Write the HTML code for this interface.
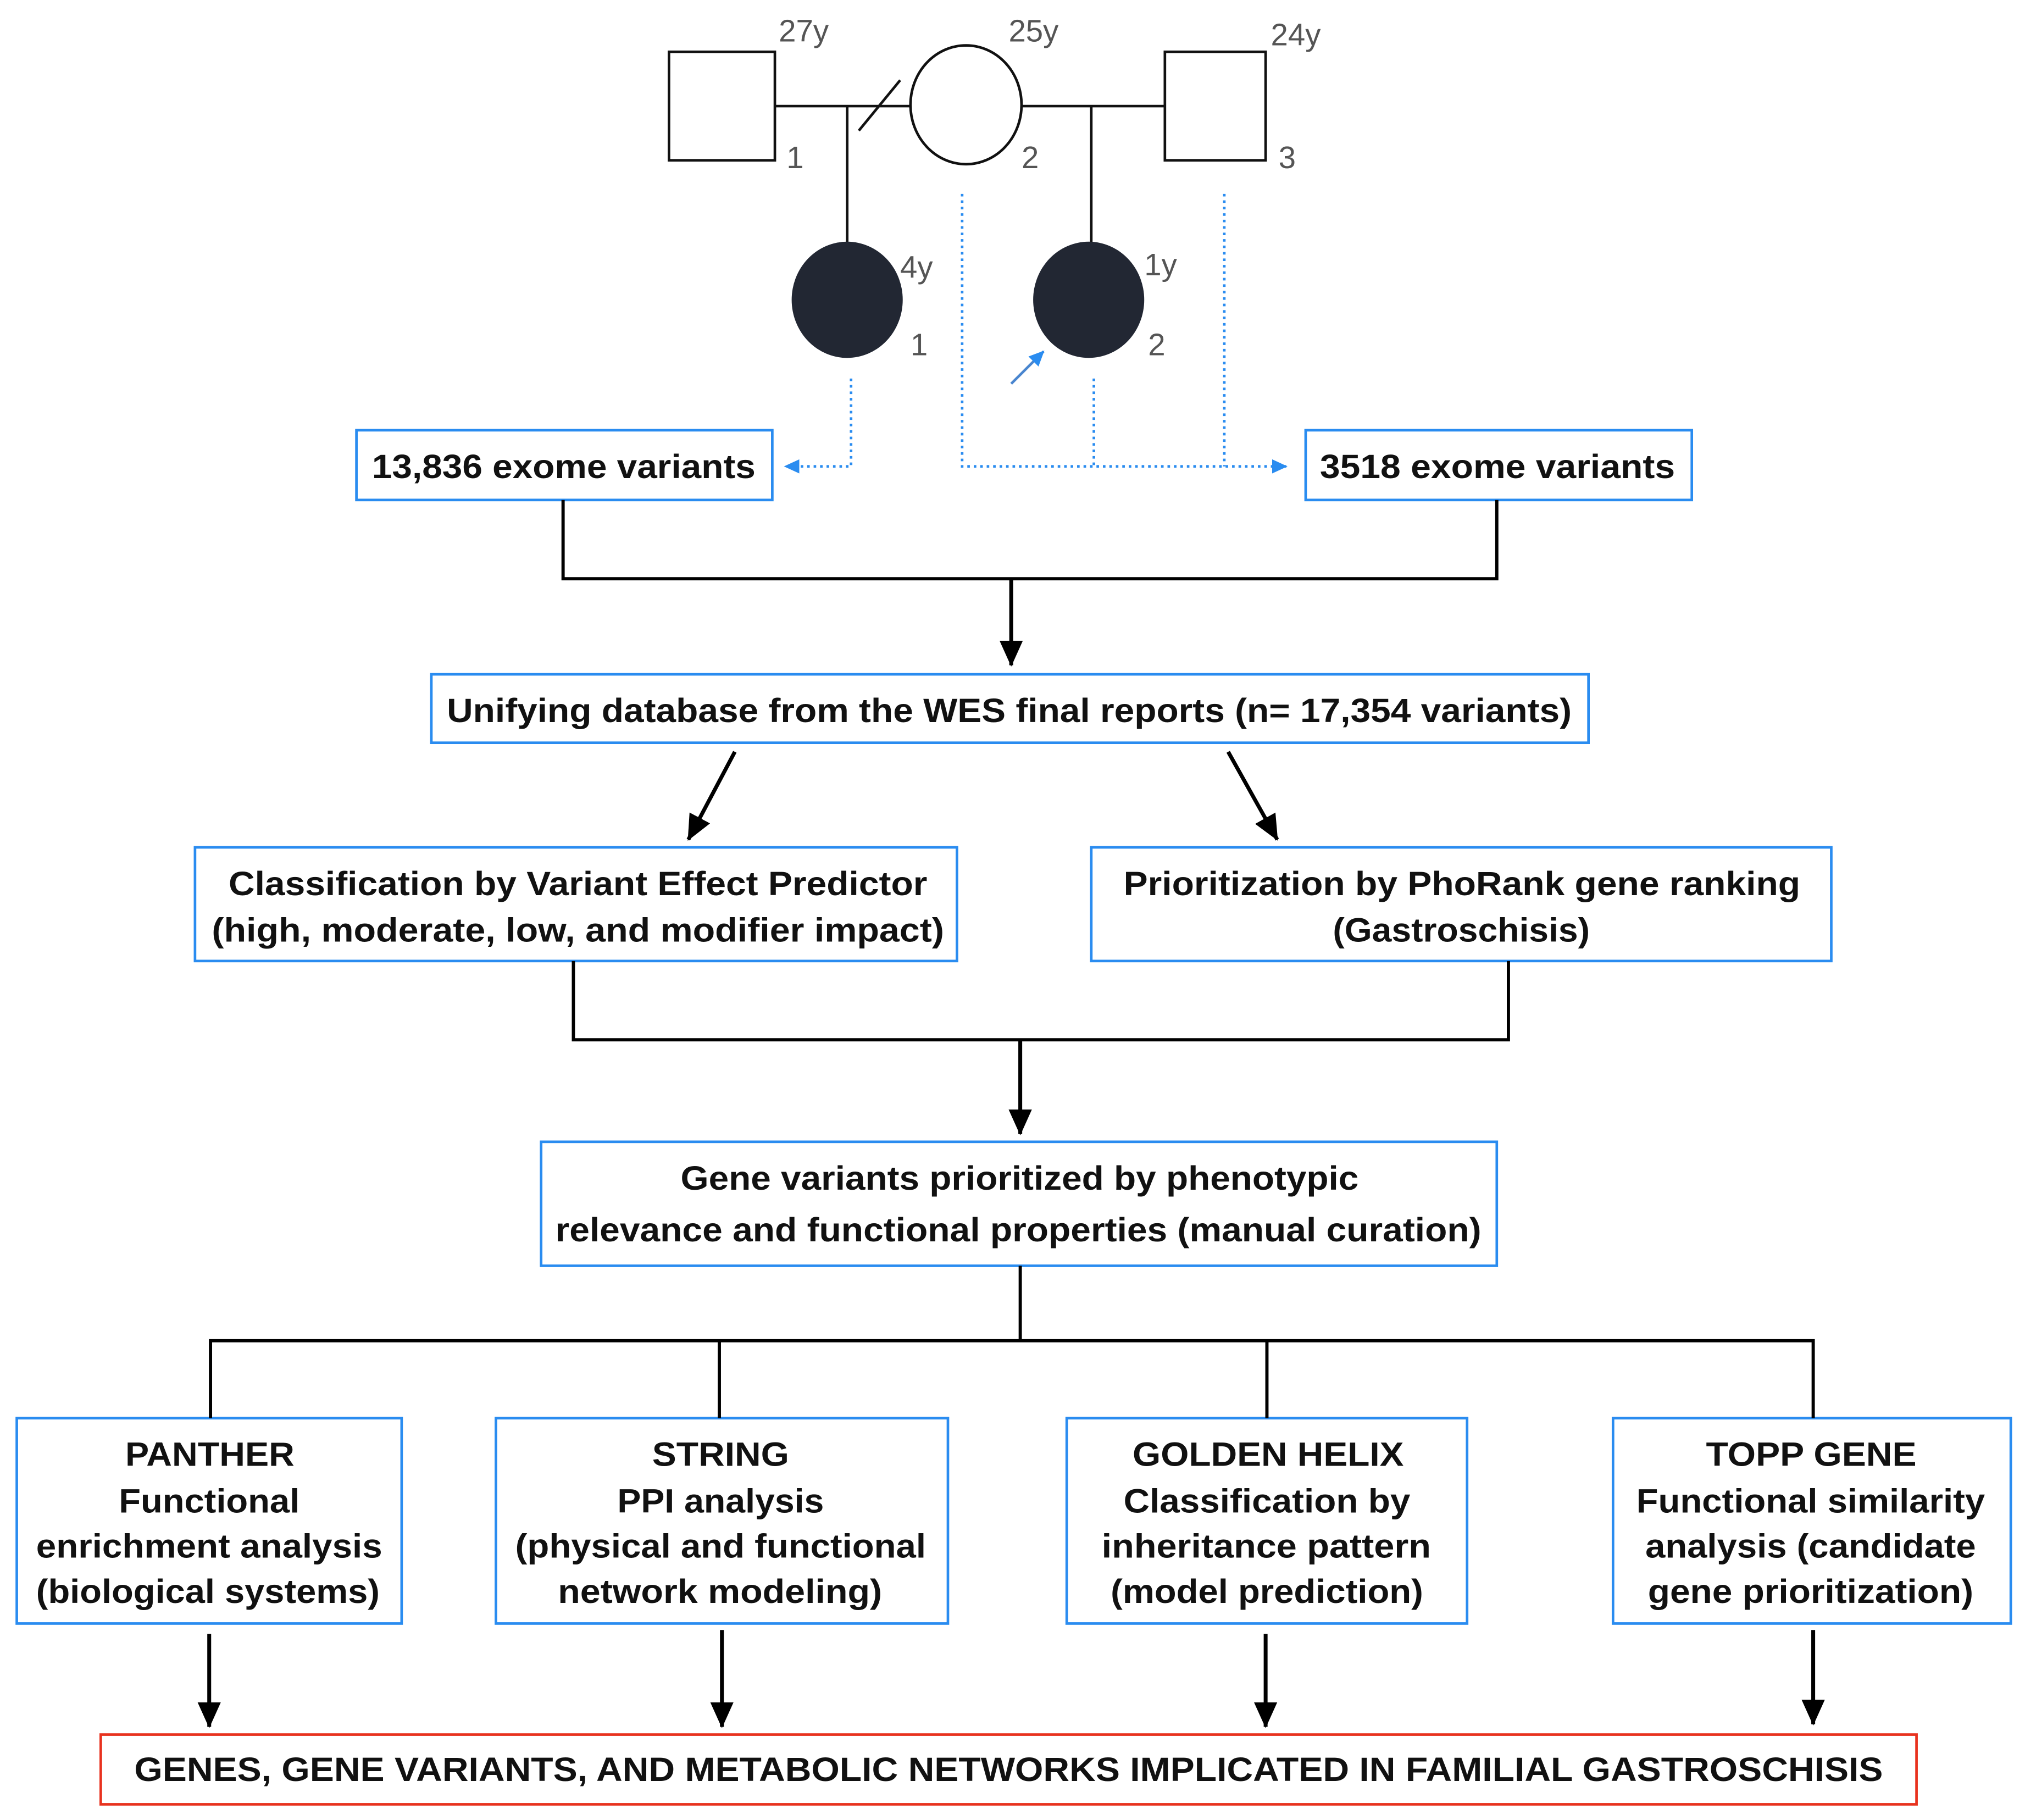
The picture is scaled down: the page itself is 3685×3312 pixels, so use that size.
<!DOCTYPE html>
<html><head><meta charset="utf-8"><style>html,body{margin:0;padding:0;background:#fff}svg{display:block}</style></head>
<body>
<svg width="3685" height="3312" viewBox="0 0 1568 1409" xmlns="http://www.w3.org/2000/svg">
<defs>
<marker id="ah" markerWidth="20" markerHeight="18" refX="19" refY="9" orient="auto" markerUnits="userSpaceOnUse" viewBox="0 0 20 18"><path d="M0,0 L20,9 L0,18 z" fill="#000"/></marker>
<marker id="ab" markerWidth="12" markerHeight="11" refX="11" refY="5.5" orient="auto" markerUnits="userSpaceOnUse" viewBox="0 0 12 11"><path d="M0,0 L12,5.5 L0,11 z" fill="#2a8cf0"/></marker>
</defs>
<rect width="1568" height="1409" fill="#fff"/>
<g stroke="#111" stroke-width="2" fill="none">
<rect x="518" y="40" width="82" height="84"/>
<ellipse cx="748" cy="81" rx="43" ry="46"/>
<rect x="902" y="40" width="78" height="84"/>
<line x1="600" y1="82" x2="705" y2="82"/>
<line x1="791" y1="82" x2="902" y2="82"/>
<line x1="665" y1="101" x2="697" y2="62"/>
<line x1="656" y1="82" x2="656" y2="188"/>
<line x1="845" y1="82" x2="845" y2="188"/>
</g>
<ellipse cx="656" cy="232" rx="43" ry="45" fill="#222733"/>
<ellipse cx="843" cy="232" rx="43" ry="45" fill="#222733"/>
<line x1="783" y1="297" x2="808" y2="272" stroke="#4a86cf" stroke-width="2" marker-end="url(#ab)"/>
<g font-family="Liberation Sans, sans-serif" font-size="24" fill="#555">
<text x="603" y="32">27y</text><text x="781" y="32">25y</text><text x="984" y="35">24y</text>
<text x="609" y="130">1</text><text x="791" y="130">2</text><text x="990" y="130">3</text>
<text x="697" y="215">4y</text><text x="705" y="275">1</text>
<text x="886" y="213">1y</text><text x="889" y="275">2</text>
</g>
<g stroke="#2a8cf0" stroke-width="2" stroke-dasharray="2,3" fill="none">
<polyline points="659,293 659,361 608,361" marker-end="url(#ab)"/>
<polyline points="745,150 745,361 996,361" marker-end="url(#ab)"/>
<line x1="847" y1="293" x2="847" y2="361"/>
<line x1="948" y1="150" x2="948" y2="361"/>
</g>
<g fill="#fff" stroke="#2a8cf0" stroke-width="2">
<rect x="276" y="333" width="322" height="54"/>
<rect x="1011" y="333" width="299" height="54"/>
<rect x="334" y="522" width="896" height="53"/>
<rect x="151" y="656" width="590" height="88"/>
<rect x="845" y="656" width="573" height="88"/>
<rect x="419" y="884" width="740" height="96"/>
<rect x="13" y="1098" width="298" height="159"/>
<rect x="384" y="1098" width="350" height="159"/>
<rect x="826" y="1098" width="310" height="159"/>
<rect x="1249" y="1098" width="308" height="159"/>
</g>
<rect x="78" y="1343" width="1406" height="54" fill="#fff" stroke="#e8321e" stroke-width="2"/>
<g stroke="#000" stroke-width="2.5" fill="none">
<polyline points="436,387 436,448 1159,448 1159,387"/>
<line x1="783" y1="448" x2="783" y2="515" stroke-width="3" marker-end="url(#ah)"/>
<line x1="569" y1="582" x2="533" y2="650" stroke-width="3" marker-end="url(#ah)"/>
<line x1="951" y1="582" x2="989" y2="650" stroke-width="3" marker-end="url(#ah)"/>
<polyline points="444,744 444,805 1168,805 1168,744"/>
<line x1="790" y1="805" x2="790" y2="878" stroke-width="3" marker-end="url(#ah)"/>
<line x1="790" y1="980" x2="790" y2="1038"/>
<polyline points="163,1098 163,1038 1404,1038 1404,1098"/>
<line x1="557" y1="1038" x2="557" y2="1098"/>
<line x1="981" y1="1038" x2="981" y2="1098"/>
<line x1="162" y1="1265" x2="162" y2="1337" stroke-width="3" marker-end="url(#ah)"/>
<line x1="559" y1="1262" x2="559" y2="1337" stroke-width="3" marker-end="url(#ah)"/>
<line x1="980" y1="1265" x2="980" y2="1337" stroke-width="3" marker-end="url(#ah)"/>
<line x1="1404" y1="1262" x2="1404" y2="1335" stroke-width="3" marker-end="url(#ah)"/>
</g>
<g font-family="Liberation Sans, sans-serif" font-size="26" font-weight="bold" fill="#111">
<text x="288" y="370" textLength="297" lengthAdjust="spacingAndGlyphs">13,836 exome variants</text>
<text x="1022" y="370" textLength="275" lengthAdjust="spacingAndGlyphs">3518 exome variants</text>
<text x="346" y="559" textLength="871" lengthAdjust="spacingAndGlyphs">Unifying database from the WES final reports (n= 17,354 variants)</text>
<text x="177" y="693" textLength="541" lengthAdjust="spacingAndGlyphs">Classification by Variant Effect Predictor</text>
<text x="164" y="729" textLength="567" lengthAdjust="spacingAndGlyphs">(high, moderate, low, and modifier impact)</text>
<text x="870" y="693" textLength="524" lengthAdjust="spacingAndGlyphs">Prioritization by PhoRank gene ranking</text>
<text x="1032" y="729" textLength="199" lengthAdjust="spacingAndGlyphs">(Gastroschisis)</text>
<text x="527" y="921" textLength="525" lengthAdjust="spacingAndGlyphs">Gene variants prioritized by phenotypic</text>
<text x="430" y="961" textLength="717" lengthAdjust="spacingAndGlyphs">relevance and functional properties (manual curation)</text>
<text x="97" y="1135" textLength="131" lengthAdjust="spacingAndGlyphs">PANTHER</text>
<text x="92" y="1171" textLength="140" lengthAdjust="spacingAndGlyphs">Functional</text>
<text x="28" y="1206" textLength="268" lengthAdjust="spacingAndGlyphs">enrichment analysis</text>
<text x="28" y="1241" textLength="266" lengthAdjust="spacingAndGlyphs">(biological systems)</text>
<text x="505" y="1135" textLength="106" lengthAdjust="spacingAndGlyphs">STRING</text>
<text x="478" y="1171" textLength="160" lengthAdjust="spacingAndGlyphs">PPI analysis</text>
<text x="399" y="1206" textLength="318" lengthAdjust="spacingAndGlyphs">(physical and functional</text>
<text x="432" y="1241" textLength="251" lengthAdjust="spacingAndGlyphs">network modeling)</text>
<text x="877" y="1135" textLength="210" lengthAdjust="spacingAndGlyphs">GOLDEN HELIX</text>
<text x="870" y="1171" textLength="222" lengthAdjust="spacingAndGlyphs">Classification by</text>
<text x="853" y="1206" textLength="255" lengthAdjust="spacingAndGlyphs">inheritance pattern</text>
<text x="860" y="1241" textLength="242" lengthAdjust="spacingAndGlyphs">(model prediction)</text>
<text x="1321" y="1135" textLength="163" lengthAdjust="spacingAndGlyphs">TOPP GENE</text>
<text x="1267" y="1171" textLength="270" lengthAdjust="spacingAndGlyphs">Functional similarity</text>
<text x="1274" y="1206" textLength="256" lengthAdjust="spacingAndGlyphs">analysis (candidate</text>
<text x="1276" y="1241" textLength="252" lengthAdjust="spacingAndGlyphs">gene prioritization)</text>
<text x="104" y="1379" textLength="1354" lengthAdjust="spacingAndGlyphs">GENES, GENE VARIANTS, AND METABOLIC NETWORKS IMPLICATED IN FAMILIAL GASTROSCHISIS</text>
</g>
</svg>
</body></html>
